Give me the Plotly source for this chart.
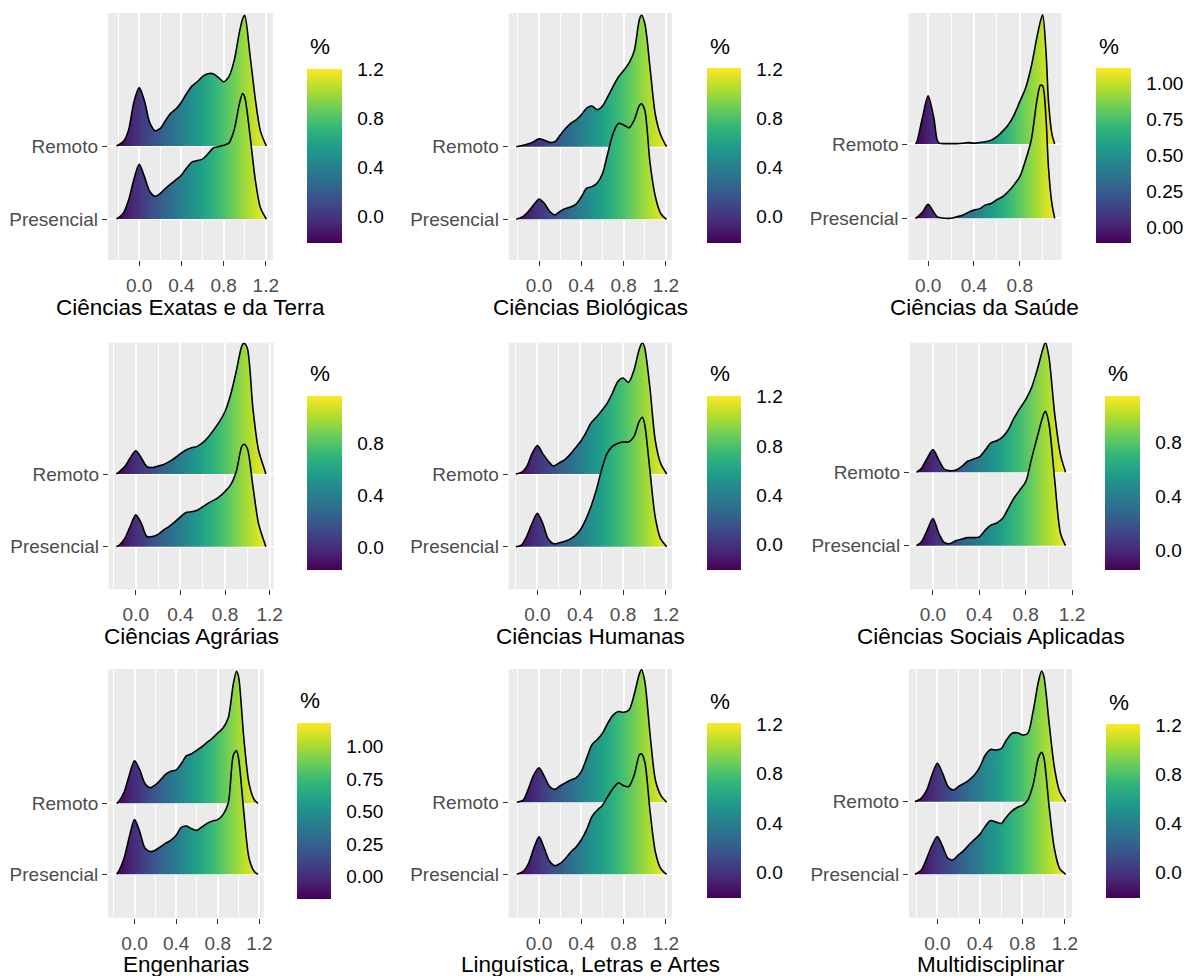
import plotly.graph_objects as go

W, H = 1191, 976
FONT = "Liberation Sans, Arial, Helvetica, sans-serif"

GROUPS = ["Presencial", "Remoto"]
X_TICKS = [0.0, 0.4, 0.8, 1.2]
X_MINOR = [-0.2, 0.2, 0.6, 1.0]
CB_TICKS_A = [0.0, 0.4, 0.8, 1.2]
CB_TICKS_B = [0.0, 0.25, 0.5, 0.75, 1.0]

# ---------------- data (density heights) ----------------
exatas_x = [-0.215, -0.15, -0.1, -0.05, 0.0, 0.05, 0.1, 0.15, 0.2, 0.25, 0.3, 0.35, 0.4, 0.45, 0.5,
            0.55, 0.6, 0.65, 0.7, 0.75, 0.8, 0.85, 0.9, 0.95, 0.98, 1.0, 1.05, 1.1, 1.15, 1.205]
exatas_remoto = [0, 0.06, 0.22, 0.60, 0.80, 0.62, 0.32, 0.21, 0.24, 0.35, 0.45, 0.51, 0.60, 0.72, 0.82,
                 0.88, 0.95, 0.99, 0.99, 0.94, 0.88, 0.95, 1.17, 1.56, 1.74, 1.79, 1.25, 0.65, 0.20, 0.0]
exatas_presencial = [0, 0.08, 0.26, 0.54, 0.75, 0.58, 0.38, 0.31, 0.35, 0.42, 0.48, 0.54, 0.60, 0.70, 0.78,
                     0.80, 0.82, 0.89, 0.97, 0.99, 1.01, 1.04, 1.22, 1.58, 1.72, 1.67, 1.15, 0.54, 0.15, 0.0]

biologicas_x = [-0.216, -0.15, -0.1, -0.05, 0.0, 0.05, 0.1, 0.15, 0.2, 0.25, 0.3, 0.35, 0.4, 0.45, 0.5,
                0.55, 0.6, 0.65, 0.7, 0.75, 0.8, 0.85, 0.9, 0.95, 0.97, 1.0, 1.05, 1.1, 1.15, 1.205]
biologicas_remoto = [0, 0.02, 0.04, 0.07, 0.11, 0.09, 0.06, 0.07, 0.16, 0.25, 0.32, 0.37, 0.44, 0.53, 0.56,
                     0.51, 0.56, 0.69, 0.83, 0.96, 1.05, 1.15, 1.32, 1.76, 1.81, 1.70, 1.08, 0.44, 0.16, 0.0]
biologicas_presencial = [0, 0.04, 0.11, 0.20, 0.28, 0.22, 0.11, 0.06, 0.11, 0.15, 0.17, 0.21, 0.31, 0.43, 0.45,
                         0.50, 0.63, 0.91, 1.18, 1.32, 1.30, 1.26, 1.37, 1.57, 1.59, 1.50, 0.77, 0.31, 0.08, 0.0]

saude_x = [-0.111, -0.1, -0.05, 0.0, 0.05, 0.08, 0.1, 0.15, 0.2, 0.25, 0.3, 0.35, 0.4, 0.45, 0.5,
           0.55, 0.6, 0.65, 0.7, 0.75, 0.8, 0.85, 0.9, 0.95, 0.98, 1.0, 1.03, 1.05, 1.08, 1.105]
saude_remoto = [0, 0.02, 0.35, 0.65, 0.35, 0.05, 0.01, 0.005, 0.005, 0.005, 0.01, 0.02, 0.01, 0.02, 0.03,
                0.05, 0.10, 0.17, 0.26, 0.39, 0.57, 0.75, 1.04, 1.44, 1.65, 1.74, 1.22, 0.59, 0.14, 0.0]
saude_presencial = [0, 0.01, 0.08, 0.19, 0.08, 0.02, 0.01, 0.0, 0.0, 0.02, 0.04, 0.08, 0.11, 0.13, 0.18,
                    0.20, 0.25, 0.29, 0.36, 0.45, 0.56, 0.78, 1.05, 1.59, 1.79, 1.78, 1.32, 0.70, 0.20, 0.0]

agrarias_x = [-0.175, -0.15, -0.1, -0.05, 0.0, 0.05, 0.1, 0.15, 0.2, 0.25, 0.3, 0.35, 0.4, 0.45, 0.5,
              0.55, 0.6, 0.65, 0.7, 0.75, 0.8, 0.85, 0.9, 0.95, 0.97, 1.0, 1.05, 1.1, 1.15, 1.166]
agrarias_remoto = [0, 0.03, 0.10, 0.22, 0.32, 0.22, 0.10, 0.09, 0.11, 0.13, 0.17, 0.22, 0.28, 0.33, 0.36,
                   0.38, 0.43, 0.51, 0.61, 0.72, 0.86, 1.09, 1.41, 1.76, 1.80, 1.73, 0.90, 0.33, 0.08, 0.0]
agrarias_presencial = [0, 0.02, 0.11, 0.28, 0.44, 0.32, 0.14, 0.14, 0.17, 0.23, 0.28, 0.34, 0.41, 0.47, 0.48,
                       0.50, 0.55, 0.60, 0.64, 0.69, 0.76, 0.85, 1.03, 1.38, 1.41, 1.35, 0.83, 0.32, 0.07, 0.0]

humanas_x = [-0.202, -0.15, -0.1, -0.05, 0.0, 0.05, 0.1, 0.15, 0.2, 0.25, 0.3, 0.35, 0.4, 0.45, 0.5,
             0.55, 0.6, 0.65, 0.7, 0.75, 0.8, 0.85, 0.9, 0.95, 0.98, 1.0, 1.05, 1.1, 1.15, 1.208]
humanas_remoto = [0, 0.02, 0.10, 0.28, 0.39, 0.28, 0.18, 0.11, 0.15, 0.19, 0.26, 0.35, 0.44, 0.56, 0.70,
                  0.78, 0.87, 0.97, 1.11, 1.27, 1.32, 1.26, 1.42, 1.71, 1.81, 1.75, 1.20, 0.47, 0.15, 0.0]
humanas_presencial = [0, 0.02, 0.14, 0.32, 0.46, 0.32, 0.11, 0.04, 0.05, 0.07, 0.10, 0.15, 0.23, 0.37, 0.55,
                      0.78, 1.06, 1.28, 1.38, 1.42, 1.44, 1.44, 1.51, 1.72, 1.78, 1.70, 1.06, 0.41, 0.11, 0.0]

sociais_x = [-0.142, -0.1, -0.05, 0.0, 0.05, 0.1, 0.15, 0.2, 0.25, 0.3, 0.35, 0.4, 0.45, 0.5,
             0.55, 0.6, 0.65, 0.7, 0.75, 0.8, 0.85, 0.9, 0.95, 0.97, 1.0, 1.05, 1.1, 1.144]
sociais_remoto = [0, 0.05, 0.19, 0.31, 0.17, 0.04, 0.02, 0.03, 0.08, 0.15, 0.18, 0.21, 0.30, 0.40,
                  0.43, 0.48, 0.58, 0.74, 0.87, 0.99, 1.15, 1.40, 1.69, 1.77, 1.58, 0.80, 0.24, 0.0]
sociais_presencial = [0, 0.05, 0.21, 0.37, 0.17, 0.04, 0.03, 0.07, 0.09, 0.11, 0.11, 0.12, 0.21, 0.28,
                      0.31, 0.37, 0.51, 0.65, 0.76, 0.87, 1.18, 1.48, 1.77, 1.83, 1.67, 0.90, 0.17, 0.0]

engenharias_x = [-0.172, -0.15, -0.1, -0.05, 0.0, 0.05, 0.1, 0.15, 0.2, 0.25, 0.3, 0.35, 0.4, 0.45, 0.5,
                 0.55, 0.6, 0.65, 0.7, 0.75, 0.8, 0.85, 0.9, 0.95, 0.98, 1.0, 1.05, 1.1, 1.15, 1.186]
engenharias_remoto = [0, 0.03, 0.16, 0.40, 0.60, 0.47, 0.28, 0.22, 0.26, 0.33, 0.41, 0.45, 0.47, 0.56, 0.67,
                      0.70, 0.75, 0.80, 0.86, 0.92, 0.99, 1.06, 1.20, 1.69, 1.86, 1.78, 0.92, 0.28, 0.05, 0.0]
engenharias_presencial = [0, 0.05, 0.23, 0.53, 0.77, 0.60, 0.37, 0.32, 0.34, 0.39, 0.44, 0.48, 0.55, 0.66, 0.68,
                          0.64, 0.62, 0.67, 0.72, 0.75, 0.77, 0.84, 1.00, 1.68, 1.74, 1.63, 0.88, 0.23, 0.04, 0.0]

linguistica_x = [-0.21, -0.15, -0.1, -0.05, 0.0, 0.05, 0.1, 0.15, 0.2, 0.25, 0.3, 0.35, 0.4, 0.45, 0.5,
                 0.55, 0.6, 0.65, 0.7, 0.75, 0.8, 0.85, 0.9, 0.95, 0.97, 1.0, 1.05, 1.1, 1.15, 1.206]
linguistica_remoto = [0, 0.03, 0.19, 0.38, 0.48, 0.36, 0.22, 0.18, 0.23, 0.27, 0.31, 0.34, 0.43, 0.61, 0.80,
                      0.87, 0.96, 1.10, 1.21, 1.26, 1.25, 1.28, 1.50, 1.79, 1.84, 1.68, 0.94, 0.31, 0.10, 0.0]
linguistica_presencial = [0, 0.04, 0.15, 0.36, 0.52, 0.36, 0.18, 0.12, 0.15, 0.22, 0.31, 0.38, 0.48, 0.62, 0.80,
                          0.89, 0.96, 1.08, 1.19, 1.27, 1.23, 1.22, 1.38, 1.66, 1.67, 1.56, 0.87, 0.31, 0.08, 0.0]

multi_x = [-0.212, -0.15, -0.1, -0.05, 0.0, 0.05, 0.1, 0.15, 0.2, 0.25, 0.3, 0.35, 0.4, 0.45, 0.5,
           0.55, 0.6, 0.65, 0.7, 0.75, 0.8, 0.85, 0.9, 0.95, 0.98, 1.0, 1.05, 1.1, 1.15, 1.208]
multi_remoto = [0, 0.05, 0.16, 0.37, 0.53, 0.39, 0.21, 0.16, 0.21, 0.25, 0.30, 0.37, 0.48, 0.64, 0.72,
                0.71, 0.73, 0.85, 0.94, 0.95, 0.92, 0.94, 1.24, 1.65, 1.80, 1.74, 1.10, 0.48, 0.14, 0.0]
multi_presencial = [0, 0.06, 0.22, 0.40, 0.52, 0.38, 0.22, 0.20, 0.27, 0.33, 0.41, 0.48, 0.55, 0.66, 0.74,
                    0.72, 0.70, 0.79, 0.87, 0.92, 0.95, 1.02, 1.23, 1.60, 1.68, 1.62, 0.95, 0.36, 0.08, 0.0]

PANELS = [
    ("Ciências Exatas e da Terra", exatas_x, exatas_remoto, exatas_presencial, CB_TICKS_A),
    ("Ciências Biológicas", biologicas_x, biologicas_remoto, biologicas_presencial, CB_TICKS_A),
    ("Ciências da Saúde", saude_x, saude_remoto, saude_presencial, CB_TICKS_B),
    ("Ciências Agrárias", agrarias_x, agrarias_remoto, agrarias_presencial, CB_TICKS_A),
    ("Ciências Humanas", humanas_x, humanas_remoto, humanas_presencial, CB_TICKS_A),
    ("Ciências Sociais Aplicadas", sociais_x, sociais_remoto, sociais_presencial, CB_TICKS_A),
    ("Engenharias", engenharias_x, engenharias_remoto, engenharias_presencial, CB_TICKS_B),
    ("Linguística, Letras e Artes", linguistica_x, linguistica_remoto, linguistica_presencial, CB_TICKS_A),
    ("Multidisciplinar", multi_x, multi_remoto, multi_presencial, CB_TICKS_A),
]

# ---------------- layout geometry (pixels) ----------------
GEOM = [
    dict(box=(109, 276, 13, 260), base=(146, 219), xr=(-0.297, 1.268), cb=(310, 345, 69, 243)),
    dict(box=(514.3, 679.3, 13, 260), base=(146.7, 219.3), xr=(-0.287, 1.256), cb=(715, 749.3, 68.3, 243.3)),
    dict(box=(918.3, 1073.3, 13, 260), base=(144, 218.3), xr=(-0.173, 1.165), cb=(1108.3, 1143.3, 68.3, 243.3)),
    dict(box=(110, 276.7, 342.7, 589.3), base=(474, 546.7), xr=(-0.242, 1.236), cb=(310, 345, 395.7, 570)),
    dict(box=(514.3, 679.3, 342.7, 589.3), base=(474, 546.7), xr=(-0.268, 1.256), cb=(715, 749.3, 395.7, 570)),
    dict(box=(920, 1084, 342.7, 589.3), base=(472.3, 545.7), xr=(-0.198, 1.201), cb=(1117.3, 1152.7, 395.7, 570)),
    dict(box=(109.3, 266.7, 669, 917.7), base=(803.3, 874.3), xr=(-0.254, 1.242), cb=(300, 334.3, 722.7, 898.3)),
    dict(box=(514.3, 679.3, 669, 917.7), base=(802.3, 874.3), xr=(-0.287, 1.256), cb=(715, 749.3, 723.3, 898.3)),
    dict(box=(919, 1084, 669, 917.7), base=(801.7, 874.3), xr=(-0.267, 1.268), cb=(1118.3, 1152.7, 724, 898.3)),
]

TICK_SIZE = 19
TITLE_SIZE = 22.5

fig = go.Figure()
layout = {}
shapes = []
annotations = []

for i, ((name, xs, rem, pre, cbticks), g) in enumerate(zip(PANELS, GEOM), start=1):
    xa = "x" if i == 1 else f"x{i}"
    ya = "y" if i == 1 else f"y{i}"
    L, R, T, B = g["box"]
    yR, yP = g["base"]
    sp = yP - yR
    yrange = [1 - (B - yP) / sp, 2 + (yR - T) / sp]
    cmin, cmax = xs[0], xs[-1]

    # ridges: Remoto (y=2) first, then Presencial (y=1) on top
    for level, heights in ((2, rem), (1, pre)):
        fig.add_trace(go.Scatter(
            x=[xs[0], xs[-1]], y=[level, level], mode="lines",
            line=dict(width=0, color="rgba(0,0,0,0)"),
            hoverinfo="skip", showlegend=False, xaxis=xa, yaxis=ya))
        fig.add_trace(go.Scatter(
            x=xs, y=[level + v for v in heights], mode="lines",
            line=dict(color="black", width=1.6, shape="spline", smoothing=0.8),
            fill="tonexty",
            fillgradient=dict(type="horizontal", colorscale="Viridis", start=cmin, stop=cmax),
            hoverinfo="skip", showlegend=False, xaxis=xa, yaxis=ya))

    # colour bar
    cL, cR, cT, cB = g["cb"]
    tv = [t for t in cbticks if cmin <= t <= cmax]
    fmt = "{:.2f}" if cbticks is CB_TICKS_B else "{:.1f}"
    fig.add_trace(go.Scatter(
        x=[xs[0]], y=[1], mode="markers",
        marker=dict(size=1, opacity=0, color=[cmin], colorscale="Viridis", cmin=cmin, cmax=cmax,
                    showscale=True,
                    colorbar=dict(thicknessmode="pixels", thickness=cR - cL,
                                  lenmode="pixels", len=cB - cT,
                                  x=cL / W, xanchor="left", y=1 - cT / H, yanchor="top",
                                  xpad=0, ypad=0, outlinewidth=0, borderwidth=0,
                                  tickmode="array", tickvals=tv, ticktext=[fmt.format(t) for t in tv],
                                  ticks="outside", ticklen=12, tickcolor="rgba(0,0,0,0)",
                                  tickfont=dict(family=FONT, size=TICK_SIZE, color="black"))),
        hoverinfo="skip", showlegend=False, xaxis=xa, yaxis=ya))
    for t in tv:
        yp = cB - (t - cmin) / (cmax - cmin) * (cB - cT)
        for a, b in ((cL, cL + 7), (cR - 7, cR)):
            shapes.append(dict(type="line", xref="paper", yref="paper",
                               x0=a / W, x1=b / W, y0=1 - yp / H, y1=1 - yp / H,
                               line=dict(color="white", width=1.5), layer="above"))
    annotations.append(dict(text="%", xref="paper", yref="paper", x=(cL + 1) / W, y=1 - (cT - 22) / H,
                            xanchor="left", yanchor="middle", showarrow=False,
                            font=dict(family=FONT, size=TITLE_SIZE, color="black")))
    annotations.append(dict(text=name, xref="paper", yref="paper", x=(L + R) / 2 / W, y=1 - (B + 47) / H,
                            xanchor="center", yanchor="middle", showarrow=False,
                            font=dict(family=FONT, size=TITLE_SIZE, color="black")))

    layout["xaxis" if i == 1 else f"xaxis{i}"] = dict(
        domain=[L / W, R / W], range=list(g["xr"]), anchor=ya,
        tickmode="array", tickvals=X_TICKS, ticktext=["{:.1f}".format(t) for t in X_TICKS],
        ticks="outside", ticklen=5, tickwidth=1.1, tickcolor="#333333", ticklabelstandoff=3,
        showgrid=True, gridcolor="white", gridwidth=1.6,
        minor=dict(tickmode="array", tickvals=X_MINOR, showgrid=True, gridcolor="white", gridwidth=0.9),
        zeroline=False, showline=False, fixedrange=True,
        tickfont=dict(family=FONT, size=TICK_SIZE, color="#4D4D4D"))
    layout["yaxis" if i == 1 else f"yaxis{i}"] = dict(
        domain=[1 - B / H, 1 - T / H], range=yrange, anchor=xa,
        tickmode="array", tickvals=[1, 2], ticktext=GROUPS,
        ticks="outside", ticklen=5, tickwidth=1.1, tickcolor="#333333", ticklabelstandoff=0,
        showgrid=True, gridcolor="white", gridwidth=1.6,
        zeroline=False, showline=False, fixedrange=True,
        tickfont=dict(family=FONT, size=TICK_SIZE, color="#4D4D4D"))

fig.update_layout(
    width=W, height=H, margin=dict(l=0, r=0, t=0, b=0),
    paper_bgcolor="white", plot_bgcolor="#EBEBEB", showlegend=False,
    shapes=shapes, annotations=annotations, **layout)

fig.write_html("out.html")
